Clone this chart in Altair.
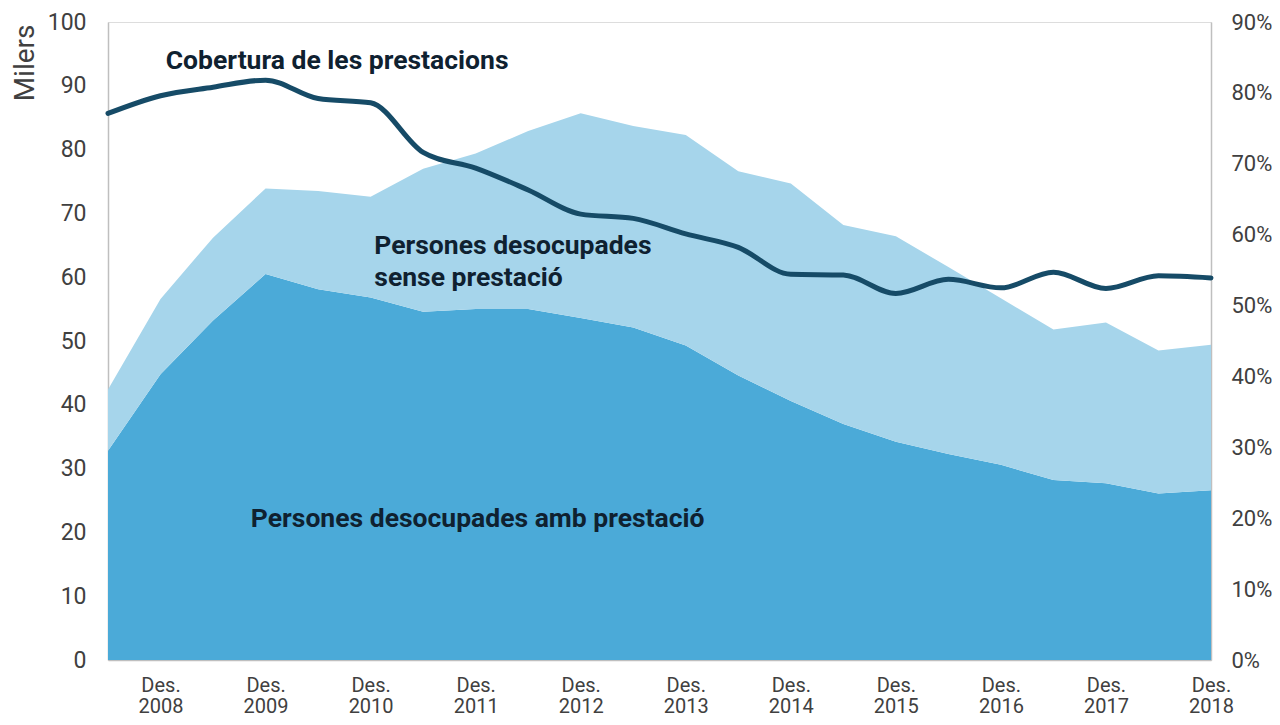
import altair as alt
import pandas as pd

# Half-yearly observations: Jun 2008 ... Dec 2018 (index 0..21)
period_index = list(range(22))
# Persones desocupades amb prestació (milers)
amb_prestacio = [32.8, 44.8, 53.2, 60.5, 58.1, 56.8, 54.6, 55.0, 55.0, 53.6, 52.1,
                 49.3, 44.6, 40.6, 37.0, 34.2, 32.3, 30.6, 28.2, 27.7, 26.1, 26.6]
# Persones desocupades sense prestació (milers)
sense_prestacio = [9.6, 11.8, 13.0, 13.4, 15.4, 15.8, 22.4, 24.4, 27.9, 32.1, 31.6,
                   33.0, 32.0, 34.1, 31.2, 32.2, 29.3, 26.1, 23.6, 25.2, 22.4, 22.8]
# Cobertura de les prestacions (%)
cobertura = [77.1, 79.6, 80.8, 81.8, 79.2, 78.6, 71.6, 69.4, 66.3, 62.9, 62.3,
             60.1, 58.2, 54.4, 54.3, 51.7, 53.7, 52.5, 54.7, 52.4, 54.2, 53.9]

tick_positions = [1, 3, 5, 7, 9, 11, 13, 15, 17, 19, 21]
tick_years = ["2008", "2009", "2010", "2011", "2012", "2013",
              "2014", "2015", "2016", "2017", "2018"]
tick_prefix = "Des."

left_ticks = [0, 10, 20, 30, 40, 50, 60, 70, 80, 90, 100]
right_ticks = [0, 10, 20, 30, 40, 50, 60, 70, 80, 90]

annot_text = ["Cobertura de les prestacions", "Persones desocupades",
              "sense prestació", "Persones desocupades amb prestació"]
annot_x = [1.10, 5.07, 5.07, 2.72]
annot_y = [92.7, 63.7, 58.6, 20.8]

DARK = "#4BAAD8"
LIGHT = "#A6D5EB"
NAVY = "#164B67"
TEXT = "#0F2130"
GREY = "#404040"
FONT = "Roboto"

area_rows = []
for i, a, s in zip(period_index, amb_prestacio, sense_prestacio):
    area_rows.append({"idx": i, "series": "amb", "ord": 0, "value": a})
    area_rows.append({"idx": i, "series": "sense", "ord": 1, "value": s})
area_df = pd.DataFrame(area_rows)
line_df = pd.DataFrame({"idx": period_index, "cob": cobertura})
annot_df = pd.DataFrame({"t": annot_text, "x": annot_x, "y": annot_y})

label_arr = "[" + ",".join(
    "['%s','%s']" % (tick_prefix, y) for y in tick_years) + "]"
label_expr = label_arr + "[(datum.value - 1) / 2]"

x_scale = alt.Scale(domain=[0, 21], nice=False, zero=False)
x_axis = alt.Axis(values=tick_positions, labelExpr=label_expr, title=None,
                  ticks=False, tickSize=0, grid=False, labelFlush=False,
                  labelOverlap=False, labelBound=False, labelPadding=15,
                  labelBaseline="top", labelLineHeight=21.5, labelFontSize=20,
                  labelFont=FONT, labelColor=GREY, domainColor="#BFBFBF",
                  domainWidth=1.5)

area = alt.Chart(area_df).mark_area(opacity=1).encode(
    x=alt.X("idx:Q", scale=x_scale, axis=x_axis),
    y=alt.Y("value:Q", stack="zero",
            scale=alt.Scale(domain=[0, 100], nice=False),
            axis=alt.Axis(values=left_ticks, title="Milers", ticks=False,
                          tickSize=0, grid=False, labelFlush=False,
                          labelPadding=22, labelFontSize=23, labelFont=FONT,
                          labelColor=GREY, domainColor="#BFBFBF",
                          domainWidth=1.5, titleFont=FONT, titleFontSize=28,
                          titleFontWeight="normal", titleColor=GREY,
                          titleAngle=270, titleX=-83, titleY=2,
                          titleAlign="right", titleBaseline="middle")),
    color=alt.Color("series:N", scale=alt.Scale(domain=["amb", "sense"],
                                                range=[DARK, LIGHT]),
                    legend=None),
    order=alt.Order("ord:Q", sort="ascending"),
)

line = alt.Chart(line_df).mark_line(
    interpolate="monotone", color=NAVY, strokeWidth=5, strokeCap="round"
).encode(
    x=alt.X("idx:Q", scale=x_scale),
    y=alt.Y("cob:Q", scale=alt.Scale(domain=[0, 90], nice=False),
            axis=alt.Axis(orient="right", values=right_ticks,
                          labelExpr="datum.value + '%'", title=None,
                          ticks=False, tickSize=0, grid=False,
                          labelFlush=False, labelPadding=20,
                          labelFontSize=22, labelFont=FONT, labelColor=GREY,
                          domainColor="#BFBFBF", domainWidth=1.5)),
)

text = alt.Chart(annot_df).mark_text(
    align="left", baseline="alphabetic", font=FONT, fontSize=26.5,
    fontWeight="bold", color=TEXT
).encode(
    x=alt.X("x:Q", scale=x_scale),
    y=alt.Y("y:Q", scale=alt.Scale(domain=[0, 100], nice=False), axis=None),
    text="t:N",
)

chart = alt.layer(area, line, text).resolve_scale(y="independent").properties(
    width=1103, height=638,
    autosize=alt.AutoSizeParams(type="none"),
    padding={"left": 100, "top": 14, "right": 61, "bottom": 57},
).configure_view(stroke=None).configure(background="white")

chart.save("out.html", embed_options={"renderer": "svg", "actions": False})
